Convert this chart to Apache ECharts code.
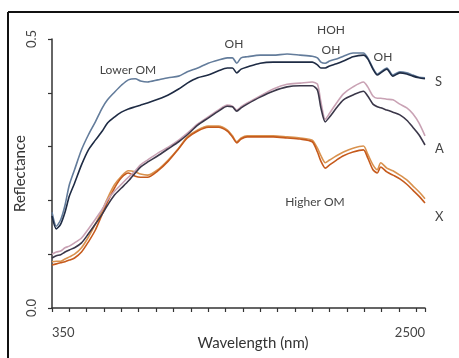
<!DOCTYPE html>
<html>
<head>
<meta charset="utf-8">
<script src="https://cdn.jsdelivr.net/npm/echarts@6/dist/echarts.min.js"></script>
<style>
  html, body { margin: 0; padding: 0; background: #fff; }
  #chart { width: 459px; height: 358px; }
</style>
</head>
<body>
<div id="chart"></div>
<script>
  // wavelength (nm)
  var wavelengths = [350, 375, 400, 425, 450, 480, 520, 560, 600, 640, 670, 710, 750, 790, 830, 860, 900, 960, 1020, 1080,
    1130, 1190, 1250, 1310, 1360, 1390, 1415, 1440, 1475, 1550, 1625, 1705, 1780, 1850, 1880, 1900, 1925, 1950, 1990, 2030,
    2085, 2145, 2170, 2200, 2225, 2245, 2280, 2315, 2355, 2395, 2430, 2465, 2500];

  // soil S (lower OM)
  var sUpper = [0.178, 0.152, 0.164, 0.191, 0.229, 0.257, 0.294, 0.322, 0.346, 0.372, 0.387, 0.401, 0.414, 0.424, 0.426, 0.422, 0.420, 0.424, 0.428, 0.431,
    0.439, 0.446, 0.455, 0.461, 0.465, 0.465, 0.455, 0.465, 0.467, 0.470, 0.470, 0.472, 0.470, 0.468, 0.465, 0.457, 0.455, 0.459, 0.463, 0.468,
    0.474, 0.474, 0.465, 0.446, 0.435, 0.439, 0.446, 0.433, 0.439, 0.437, 0.433, 0.429, 0.428];
  var sLower = [0.171, 0.147, 0.156, 0.178, 0.208, 0.232, 0.266, 0.294, 0.312, 0.329, 0.344, 0.355, 0.364, 0.370, 0.374, 0.377, 0.381, 0.388, 0.396, 0.407,
    0.418, 0.428, 0.433, 0.441, 0.446, 0.446, 0.437, 0.444, 0.448, 0.455, 0.457, 0.457, 0.457, 0.457, 0.452, 0.446, 0.446, 0.450, 0.454, 0.459,
    0.467, 0.470, 0.463, 0.444, 0.433, 0.437, 0.444, 0.431, 0.437, 0.435, 0.431, 0.428, 0.426];

  // soil A
  var aLight = [0.100, 0.104, 0.106, 0.112, 0.115, 0.121, 0.130, 0.147, 0.165, 0.184, 0.201, 0.217, 0.230, 0.243, 0.255, 0.266, 0.275, 0.288, 0.299, 0.312,
    0.325, 0.342, 0.355, 0.368, 0.377, 0.375, 0.368, 0.374, 0.381, 0.394, 0.407, 0.416, 0.418, 0.420, 0.416, 0.383, 0.351, 0.362, 0.381, 0.398,
    0.411, 0.420, 0.411, 0.394, 0.390, 0.390, 0.388, 0.387, 0.379, 0.372, 0.361, 0.344, 0.320];
  var aDark = [0.093, 0.097, 0.099, 0.104, 0.108, 0.112, 0.121, 0.138, 0.156, 0.175, 0.191, 0.210, 0.223, 0.236, 0.251, 0.262, 0.271, 0.283, 0.296, 0.309,
    0.322, 0.340, 0.353, 0.366, 0.375, 0.374, 0.366, 0.372, 0.379, 0.392, 0.403, 0.411, 0.413, 0.413, 0.405, 0.372, 0.346, 0.355, 0.372, 0.387,
    0.396, 0.403, 0.394, 0.379, 0.374, 0.372, 0.368, 0.364, 0.359, 0.349, 0.336, 0.322, 0.303];

  // soil X (higher OM)
  var xLight = [0.086, 0.087, 0.087, 0.091, 0.095, 0.100, 0.112, 0.132, 0.156, 0.182, 0.204, 0.229, 0.245, 0.255, 0.253, 0.249, 0.247, 0.257, 0.275, 0.297,
    0.318, 0.331, 0.338, 0.338, 0.331, 0.320, 0.309, 0.316, 0.320, 0.320, 0.320, 0.318, 0.316, 0.312, 0.297, 0.283, 0.270, 0.275, 0.283, 0.290,
    0.297, 0.301, 0.286, 0.266, 0.257, 0.270, 0.260, 0.255, 0.247, 0.238, 0.227, 0.216, 0.203];
  var xDark = [0.080, 0.082, 0.084, 0.086, 0.089, 0.093, 0.104, 0.123, 0.145, 0.175, 0.197, 0.223, 0.242, 0.251, 0.245, 0.243, 0.243, 0.255, 0.273, 0.296,
    0.316, 0.329, 0.336, 0.336, 0.329, 0.318, 0.307, 0.314, 0.318, 0.318, 0.318, 0.316, 0.314, 0.309, 0.290, 0.273, 0.260, 0.266, 0.275, 0.283,
    0.290, 0.294, 0.279, 0.257, 0.251, 0.262, 0.253, 0.247, 0.240, 0.230, 0.219, 0.208, 0.195];

  // only the end values carry a label
  var xLabels = ['350', '2500'];
  var yLabels = ['0.0', '0.5'];

  var fontFam = 'Lato, "Noto Sans", sans-serif';

  function pairs(arr) {
    return wavelengths.map(function (w, i) { return [w, arr[i]]; });
  }

  function spectrum(arr, color, endText, endOffset) {
    var s = {
      type: 'line',
      data: pairs(arr),
      symbol: 'none',
      smooth: 0.25,
      lineStyle: { color: color, width: 1.6 },
      silent: true
    };
    if (endText) {
      s.endLabel = {
        show: true,
        formatter: endText,
        distance: 10,
        offset: endOffset,
        color: '#444',
        fontSize: 13,
        fontFamily: fontFam
      };
    }
    return s;
  }

  var myChart = echarts.init(document.getElementById('chart'));
  myChart.setOption({
    animation: false,
    grid: { left: 52, right: 34, top: 39, bottom: 50, outerBoundsMode: 'none' },
    xAxis: {
      type: 'value',
      min: 350,
      max: 2500,
      interval: 100,
      name: 'Wavelength (nm)',
      nameLocation: 'middle',
      nameGap: 28,
      nameMoveOverlap: false,
      nameTextStyle: { color: '#333', fontSize: 15, fontFamily: fontFam, padding: [0, 0, 0, 29] },
      axisLine: { show: true, lineStyle: { color: '#333', width: 1.5 } },
      axisTick: { show: true, inside: false, length: 4, lineStyle: { color: '#333', width: 1.2 } },
      axisLabel: {
        showMinLabel: true,
        showMaxLabel: true,
        alignMinLabel: 'left',
        alignMaxLabel: 'right',
        margin: 18,
        color: '#444',
        fontSize: 13,
        fontFamily: fontFam,
        formatter: function (v) {
          var t = String(v);
          return xLabels.indexOf(t) >= 0 ? t : '';
        }
      },
      splitLine: { show: false }
    },
    yAxis: {
      type: 'value',
      min: 0,
      max: 0.5,
      interval: 0.1,
      name: 'Reflectance',
      nameLocation: 'middle',
      nameGap: 24,
      nameMoveOverlap: false,
      nameTextStyle: { color: '#333', fontSize: 15, fontFamily: fontFam },
      axisLine: { show: true, lineStyle: { color: '#333', width: 1.5 } },
      axisTick: { show: true, inside: false, length: 4, lineStyle: { color: '#333', width: 1.2 } },
      axisLabel: {
        rotate: 90,
        margin: 14,
        color: '#444',
        fontSize: 13,
        fontFamily: fontFam,
        formatter: function (v) {
          var t = v.toFixed(1);
          return yLabels.indexOf(t) >= 0 ? t : '';
        }
      },
      splitLine: { show: false }
    },
    graphic: [
      // frame
      { type: 'line', shape: { x1: 8, y1: 12, x2: 8, y2: 358 }, style: { stroke: '#111', lineWidth: 2 } },
      { type: 'line', shape: { x1: 8, y1: 12, x2: 459, y2: 12 }, style: { stroke: '#111', lineWidth: 2 } },
      // annotations
      { type: 'text', x: 128, y: 70, style: { text: 'Lower OM', fill: '#444', font: '12px ' + fontFam, align: 'center', verticalAlign: 'middle' } },
      { type: 'text', x: 234, y: 44, style: { text: 'OH', fill: '#444', font: '12px ' + fontFam, align: 'center', verticalAlign: 'middle' } },
      { type: 'text', x: 331, y: 30, style: { text: 'HOH', fill: '#444', font: '12px ' + fontFam, align: 'center', verticalAlign: 'middle' } },
      { type: 'text', x: 331, y: 50, style: { text: 'OH', fill: '#444', font: '12px ' + fontFam, align: 'center', verticalAlign: 'middle' } },
      { type: 'text', x: 383, y: 57, style: { text: 'OH', fill: '#444', font: '12px ' + fontFam, align: 'center', verticalAlign: 'middle' } },
      { type: 'text', x: 315, y: 202, style: { text: 'Higher OM', fill: '#444', font: '12px ' + fontFam, align: 'center', verticalAlign: 'middle' } }
    ],
    series: [
      spectrum(xLight, '#d9924e'),
      spectrum(xDark, '#c65a1c', 'X', [0, 14]),
      spectrum(aLight, '#c9a2b4'),
      spectrum(aDark, '#3b3749', 'A', [0, 4]),
      spectrum(sUpper, '#637c9b'),
      spectrum(sLower, '#1e2b44', 'S', [0, 3])
    ]
  });
</script>
</body>
</html>
